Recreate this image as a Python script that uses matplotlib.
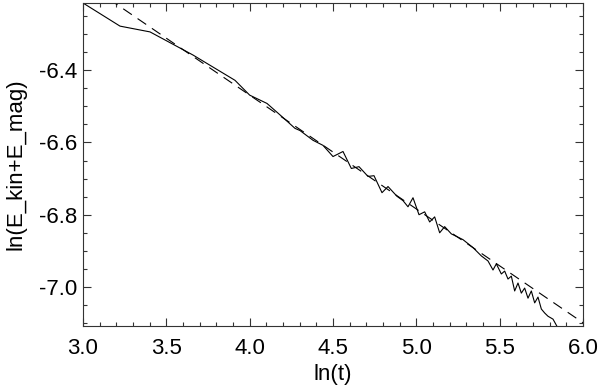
import matplotlib
matplotlib.use("Agg")
import matplotlib.pyplot as plt
from matplotlib.ticker import MultipleLocator

plt.rcParams['font.family'] = ['Liberation Sans', 'DejaVu Sans']
plt.rcParams['lines.scale_dashes'] = False

# solid curve: ln(t) vs ln(E_kin+E_mag)
ln_t = [3.0, 3.222, 3.402, 3.66, 3.912, 4.0, 4.104, 4.2, 4.272, 4.302, 4.38, 4.44,
        4.50, 4.56, 4.61, 4.656, 4.71, 4.746, 4.794, 4.83, 4.884, 4.92, 4.95, 4.98,
        5.016, 5.05, 5.08, 5.11, 5.14, 5.17, 5.21, 5.28, 5.34, 5.39, 5.43, 5.46,
        5.48, 5.51, 5.53, 5.55, 5.57, 5.59, 5.61, 5.63, 5.65, 5.67, 5.69, 5.71,
        5.73, 5.75, 5.77, 5.79, 5.82, 5.85]
ln_e = [-6.214, -6.278, -6.294, -6.358, -6.428, -6.469, -6.492, -6.531, -6.561, -6.567,
        -6.594, -6.608, -6.639, -6.625, -6.672, -6.667, -6.694, -6.692, -6.739, -6.722,
        -6.749, -6.761, -6.778, -6.753, -6.800, -6.792, -6.820, -6.806, -6.850, -6.833,
        -6.853, -6.869, -6.891, -6.914, -6.928, -6.953, -6.936, -6.964, -6.956, -6.978,
        -6.970, -7.011, -6.989, -7.017, -7.003, -7.031, -7.011, -7.044, -7.028, -7.061,
        -7.072, -7.081, -7.089, -7.114]

# dashed fit line endpoints
fit_x = [3.0, 6.0]
fit_y = [-6.154, -7.099]

xticks = [3.0, 3.5, 4.0, 4.5, 5.0, 5.5, 6.0]
yticks = [-7.0, -6.8, -6.6, -6.4]

fig = plt.figure(figsize=(6.0, 3.88), dpi=100)
ax = fig.add_axes([83/600, 1-326/388, 500/600, 323/388])

ax.plot(ln_t, ln_e, color='black', lw=0.8)
ax.plot(fit_x, fit_y, color='black', lw=0.8, dashes=(7.5, 5))

ax.set_xlim(3.0, 6.0)
ax.set_ylim(-7.108, -6.214)
ax.set_xticks(xticks)
ax.set_xticklabels([f"{v:.1f}" for v in xticks])
ax.set_yticks(yticks)
ax.set_yticklabels([f"{v:.1f}" for v in yticks])
ax.xaxis.set_minor_locator(MultipleLocator(0.1))
ax.yaxis.set_minor_locator(MultipleLocator(0.05))

ax.tick_params(which='both', direction='in', top=True, right=True,
               color='#333333', width=0.8, labelsize=16)
ax.tick_params(which='major', length=6)
ax.tick_params(which='minor', length=3)
ax.tick_params(axis='x', which='major', pad=9)
ax.tick_params(axis='y', which='major', pad=4)
for s in ax.spines.values():
    s.set_color('#333333')
    s.set_linewidth(0.8)

ax.set_xlabel('ln(t)', fontsize=16, labelpad=3)
ax.set_ylabel('ln(E_kin+E_mag)', fontsize=16, labelpad=9)

fig.savefig('out.png', dpi=100)
